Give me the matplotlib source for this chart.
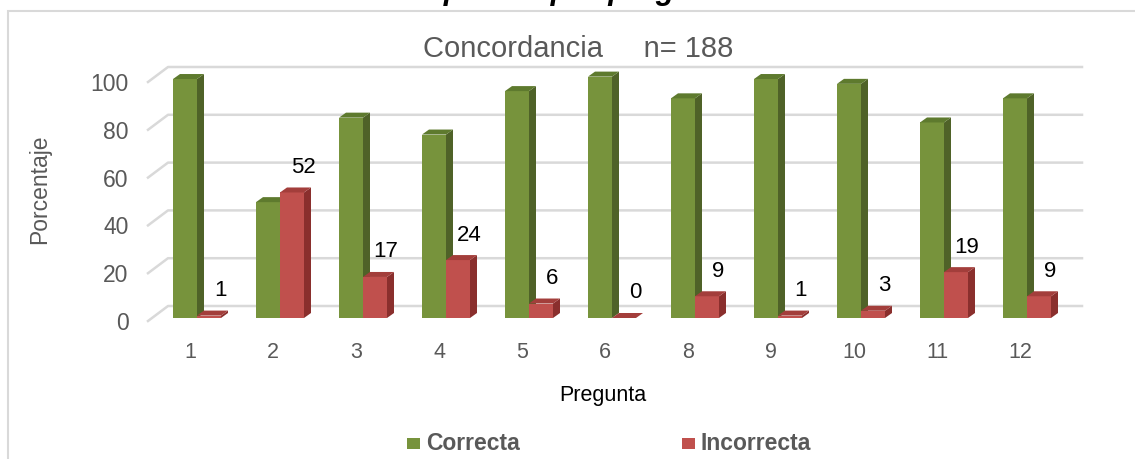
import matplotlib
matplotlib.use('Agg')
import matplotlib.pyplot as plt
from matplotlib.patches import Polygon, Rectangle

plt.rcParams['font.family'] = ['Liberation Sans', 'DejaVu Sans']

# data
preguntas = ['1', '2', '3', '4', '5', '6', '8', '9', '10', '11', '12']
correcta = [99, 48, 83, 76, 94, 100, 91, 99, 97, 81, 91]
incorrecta = [1, 52, 17, 24, 6, 0, 9, 1, 3, 19, 9]
yticks = [0, 20, 40, 60, 80, 100]

W, H = 1135, 459
PX_X = 83.0      # pixels per category
PX_Y = 2.39      # pixels per percent

GREEN = ('#77933c', '#4f6228', '#5e7a2e')   # front, side, top
RED = ('#c0504d', '#8a2f2d', '#a33e3b')
GRAY = '#595959'


def fx(px):
    return px / W


def fy(py):
    return 1 - py / H


fig = plt.figure(figsize=(W / 100, H / 100), dpi=100)

# outer frame (cut at right and bottom)
fig.add_artist(Rectangle((fx(8), fy(470)), fx(1150) - fx(8), (470 - 11) / H,
                         transform=fig.transFigure, fill=False,
                         edgecolor='#d9d9d9', lw=1.5))

# caption cut off at the top, only descenders remain
fig.text(fx(398), fy(-1.5), 'respuesta por pregunta', fontsize=22,
         fontweight='bold', fontstyle='italic', va='baseline', ha='left')

ax = fig.add_axes([fx(148), fy(321), fx(1062) - fx(148), (321 - 82) / H])
xmin, xmax = (148 - 197) / PX_X, (1062 - 197) / PX_X
ax.set_xlim(xmin, xmax)
ax.set_ylim(0, 100)
for s in ax.spines.values():
    s.set_visible(False)
ax.patch.set_alpha(0)

# back wall gridlines with perspective
gx, gy = 20 / PX_X, 15 / PX_Y
for v in yticks:
    ax.plot([xmin, xmin + gx, xmax + gx], [v, v + gy, v + gy],
            color='#d9d9d9', lw=1.8, clip_on=False, zorder=1)

bw = 24 / PX_X
bx, by = 7 / PX_X, 5 / PX_Y
b0 = 3 / PX_Y     # bars stand slightly behind the front edge
x = list(range(len(preguntas)))


def bar3d(xl, h, cols, z):
    top_y = b0 + h * 1.01
    bars = ax.bar(xl + bw / 2, top_y - b0, bw, bottom=b0, color=cols[0],
                  zorder=z, linewidth=0)
    for p in bars:
        p.set_clip_on(False)
    side = [(xl + bw, b0), (xl + bw + bx, b0 + by), (xl + bw + bx, top_y + by), (xl + bw, top_y)]
    top = [(xl, top_y), (xl + bx, top_y + by), (xl + bw + bx, top_y + by), (xl + bw, top_y)]
    ax.add_patch(Polygon(side, closed=True, color=cols[1], lw=0, zorder=z, clip_on=False))
    ax.add_patch(Polygon(top, closed=True, color=cols[2], lw=0, zorder=z, clip_on=False))
    return top_y


for i in x:
    bar3d(i - bw, correcta[i], GREEN, 3 + 2 * i)
    ty = bar3d(i, incorrecta[i], RED, 4 + 2 * i)
    ax.text(i + bw / 2 + 11 / PX_X, ty + 25 / PX_Y, str(incorrecta[i]),
            ha='center', va='center', fontsize=16, color='black', zorder=30)

ax.set_yticks(yticks)
ax.set_yticklabels([str(v) for v in yticks], fontsize=16.5, color=GRAY)
ax.set_xticks([i - 7 / PX_X for i in x])
ax.set_xticklabels(preguntas, fontsize=15.5, color=GRAY)
ax.tick_params(axis='y', length=0, pad=14)
ax.tick_params(axis='x', length=0, pad=15)

fig.text(fx(578), fy(49), 'Concordancia     n= 188', fontsize=21,
         color=GRAY, ha='center', va='center')
fig.text(fx(40), fy(189), 'Porcentaje', fontsize=16.5, color=GRAY,
         rotation=90, ha='center', va='center')
fig.text(fx(603), fy(396), 'Pregunta', fontsize=15.5, color='black',
         ha='center', va='center')

# legend
for sx, tx, col, lab in [(407, 426, GREEN[0], 'Correcta'),
                         (682, 700, RED[0], 'Incorrecta')]:
    fig.add_artist(Rectangle((fx(sx), fy(449)), 13 / W, 11 / H,
                             transform=fig.transFigure, color=col, lw=0))
    fig.text(fx(tx), fy(443), lab, fontsize=16.5, fontweight='bold',
             color=GRAY, ha='left', va='center')

fig.savefig('out.png', dpi=100)
